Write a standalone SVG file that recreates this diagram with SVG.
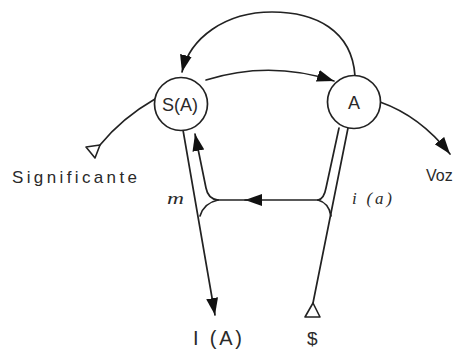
<svg xmlns="http://www.w3.org/2000/svg" width="460" height="349" viewBox="0 0 460 349">
<style>
.ln{fill:none;stroke:#222;stroke-width:1.7;stroke-linecap:round}
.nd{fill:#fff;stroke:#222;stroke-width:1.7}
.tx{font-family:"Liberation Sans","DejaVu Sans",sans-serif;fill:#2a2a2a}
.it{font-family:"Liberation Serif","DejaVu Serif",serif;font-style:italic;fill:#2a2a2a}
.open{fill:#fff;stroke:#222;stroke-width:1.6;stroke-linejoin:round}
</style>
<defs>
<marker id="ah" markerUnits="userSpaceOnUse" markerWidth="19" markerHeight="13" refX="17" refY="6" orient="auto">
<path d="M0,0 L17,6 L0,12 z" fill="#111"/>
</marker>
</defs>
<g id="connectors">
<path class="ln" d="M355,76 C352,30 315,12 272,12 C225,12 190,38 182,72" marker-end="url(#ah)"/>
<path class="ln" d="M206,80 Q270,60 334,81" marker-end="url(#ah)"/>
<path class="ln" d="M155,99 Q122,118 100,145"/>
<path class="ln" d="M380,102 Q420,116 450,154" marker-end="url(#ah)"/>
<path class="ln" d="M183,130 L215,315" marker-end="url(#ah)"/>
<path class="ln" d="M218,200 Q208,199 206,188 L195,134" marker-end="url(#ah)"/>
<path class="ln" d="M218,200 Q204,203 200,216"/>
<path class="ln" d="M318,200 L245,200" marker-end="url(#ah)"/>
<path class="ln" d="M250,200 L218,200"/>
<path class="ln" d="M348,128 L313,303"/>
<path class="ln" d="M339,128 L326,188 Q324,199 318,200"/>
<path class="ln" d="M318,200 Q329,203 331,216"/>
<polygon class="open" points="100,145 95,158 86,147"/>
<polygon class="open" points="313,303 305,317 320,317"/>
</g>
<g id="node-SA">
<circle class="nd" cx="181" cy="104" r="26.5"/>
<text class="tx" x="180" y="111" font-size="18" text-anchor="middle">S(A)</text>
</g>
<g id="node-A">
<circle class="nd" cx="354" cy="102" r="26.5"/>
<text class="tx" x="354" y="109" font-size="18" text-anchor="middle">A</text>
</g>
<g id="labels">
<text class="tx" x="12" y="183" font-size="17" textLength="125" lengthAdjust="spacing">Significante</text>
<text class="tx" x="426" y="181" font-size="16">Voz</text>
<text class="it" x="167" y="204" font-size="16" textLength="17" lengthAdjust="spacingAndGlyphs">m</text>
<text class="it" x="352" y="204" font-size="17" textLength="40" lengthAdjust="spacing">i (a)</text>
<text class="tx" x="193" y="345" font-size="20" textLength="49" lengthAdjust="spacing">I (A)</text>
<text class="tx" x="307" y="345" font-size="19">$</text>
</g>
</svg>
